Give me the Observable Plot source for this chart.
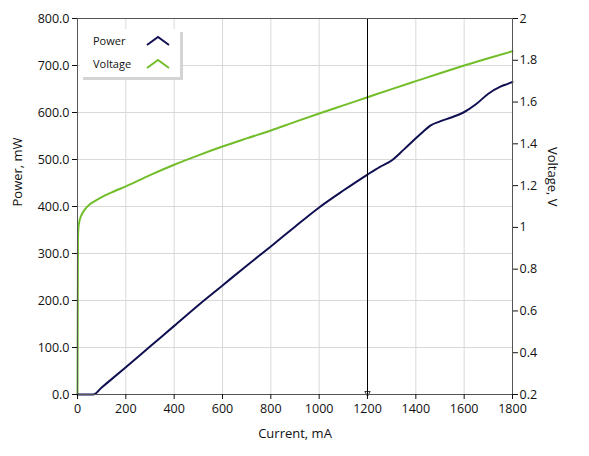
<!DOCTYPE html>
<html>
<head>
<meta charset="utf-8">
<script src="https://cdn.jsdelivr.net/npm/d3@7"></script>
<script src="https://cdn.jsdelivr.net/npm/@observablehq/plot@0.6"></script>
<style>
  html, body { margin: 0; padding: 0; background: white; }
  #wrap { position: relative; width: 589px; height: 456px; font-family: "Open Sans", "Noto Sans", sans-serif; }
  #legend { position: absolute; left: 80px; top: 29px; width: 100px; height: 48px; background: white;
            box-shadow: 3px 3px 0 #d4d4d4; font-size: 11px; color: #111; }
  #legend .row { position: absolute; left: 13px; display: flex; align-items: center; }
  #legend svg { position: absolute; }
</style>
</head>
<body>
<div id="wrap">
  <div id="chart"></div>
  <div id="legend">
    <div class="row" style="top:4px;">Power</div>
    <svg style="left:66px;top:5px" width="24" height="14"><polyline points="1,11 12,3 23,11" fill="none" stroke="#0f0f52" stroke-width="2"/></svg>
    <div class="row" style="top:27px;">Voltage</div>
    <svg style="left:66px;top:28px" width="24" height="14"><polyline points="1,11 12,3 23,11" fill="none" stroke="#72bd2a" stroke-width="2"/></svg>
  </div>
</div>
<script>
// Power vs current
const powerCurrent = [0, 65, 100, 200, 300, 400, 500, 600, 700, 800, 900, 1000, 1100, 1200, 1250, 1300, 1350, 1400, 1430, 1460, 1500, 1550, 1597, 1650, 1700, 1750, 1780, 1800];
const powerValues  = [0, 0, 15, 58, 102, 146, 190, 232, 274, 315, 357, 398, 434, 468, 484, 498, 521, 545, 559, 572, 581, 590, 600, 618, 640, 655, 661, 665];

// Voltage vs current
const voltCurrent = [0, 1, 2, 4, 8, 15, 30, 50, 70, 100, 150, 200, 300, 400, 500, 600, 700, 800, 900, 1000, 1100, 1200, 1300, 1400, 1500, 1600, 1700, 1800];
const voltValues  = [0.2, 0.6, 0.95, 1.0, 1.03, 1.055, 1.085, 1.11, 1.125, 1.145, 1.172, 1.196, 1.25, 1.30, 1.345, 1.387, 1.426, 1.464, 1.505, 1.545, 1.584, 1.623, 1.662, 1.70, 1.738, 1.775, 1.81, 1.843];

const xTicks = [0, 200, 400, 600, 800, 1000, 1200, 1400, 1600, 1800];
const powerTicks = [0, 100, 200, 300, 400, 500, 600, 700, 800];
const voltTicks = [0.2, 0.4, 0.6, 0.8, 1, 1.2, 1.4, 1.6, 1.8, 2];
const voltTickLabels = ["0.2", "0.4", "0.6", "0.8", "1", "1.2", "1.4", "1.6", "1.8", "2"];
const markerCurrent = [1200];

const vMin = 0.2, vMax = 2, pMin = 0, pMax = 800;
const toP = v => pMin + (v - vMin) / (vMax - vMin) * (pMax - pMin);

const power = powerCurrent.map((c, i) => ({c, p: powerValues[i]}));
const volt = voltCurrent.map((c, i) => ({c, p: toP(voltValues[i])}));

const chart = Plot.plot({
  width: 589, height: 456,
  marginLeft: 77, marginRight: 77, marginTop: 18, marginBottom: 62,
  x: {domain: [0, 1800]},
  y: {domain: [pMin, pMax]},
  style: {fontFamily: "'Open Sans', 'Noto Sans', sans-serif", fontSize: "12.5px", color: "#111", background: "white"},
  marks: [
    Plot.gridX(xTicks, {stroke: "#d9d9d9", strokeOpacity: 1}),
    Plot.gridY(powerTicks, {stroke: "#d9d9d9", strokeOpacity: 1}),
    Plot.line(volt, {x: "c", y: "p", stroke: "#72bd2a", strokeWidth: 2, curve: "monotone-x"}),
    Plot.line(power, {x: "c", y: "p", stroke: "#0f0f52", strokeWidth: 2, curve: "monotone-x"}),
    Plot.ruleX(markerCurrent, {stroke: "black", strokeWidth: 1}),
    Plot.dot(markerCurrent.map(c => ({c})), {x: "c", y: () => 3, symbol: "triangle", rotate: 180, r: 2, stroke: "black", fill: "none", strokeWidth: 0.8}),
    Plot.frame({stroke: "#555", strokeWidth: 1}),
    Plot.axisX({ticks: xTicks, tickSize: 5, tickPadding: 5, tickFormat: d => String(d), label: null}),
    Plot.axisY({ticks: powerTicks, tickSize: 5, tickPadding: 3, tickFormat: d => d.toFixed(1), label: null}),
    Plot.axisY({anchor: "right", ticks: voltTicks.map(toP), tickSize: 5, tickPadding: 2,
                tickFormat: (d, i) => voltTickLabels[i], label: null}),
    Plot.text(["Current, mA"], {frameAnchor: "bottom", dy: 43, text: d => d, fontSize: 13}),
    Plot.text(["Power, mW"], {frameAnchor: "left", dx: -60, rotate: -90, text: d => d, fontSize: 13}),
    Plot.text(["Voltage, V"], {frameAnchor: "right", dx: 40, rotate: 90, text: d => d, fontSize: 13})
  ]
});
document.getElementById("chart").appendChild(chart);
</script>
</body>
</html>
